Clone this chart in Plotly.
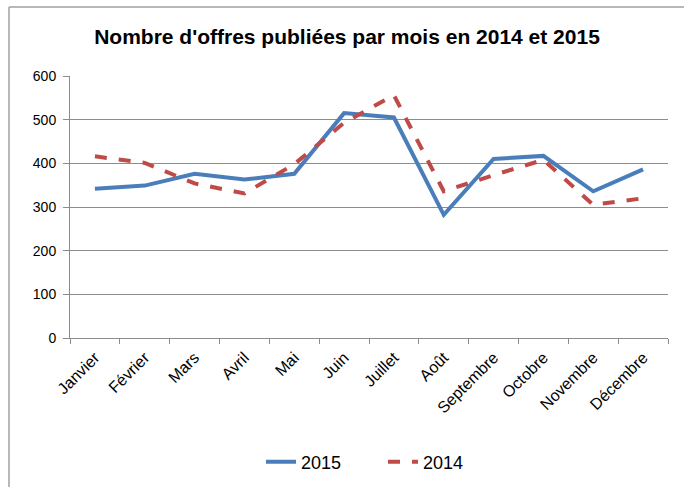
import plotly.graph_objects as go

months = ["Janvier", "Février", "Mars", "Avril", "Mai", "Juin", "Juillet",
          "Août", "Septembre", "Octobre", "Novembre", "Décembre"]
values_2015 = [342, 349, 376, 363, 376, 515, 505, 282, 410, 417, 336, 386]
values_2014 = [416, 401, 354, 331, 398, 493, 556, 336, 373, 408, 305, 320]
y_ticks = [0, 100, 200, 300, 400, 500, 600]

W, H = 684, 487
L, R, T, B = 70, 16, 76, 149
pw, ph = W - L - R, H - T - B

def px(x):
    return (x - L) / pw

def py(y):
    return (H - B - y) / ph

fig = go.Figure()
fig.add_trace(go.Scatter(x=months, y=values_2015, name="2015", mode="lines",
                         line=dict(color="#4A7EBB", width=4)))
fig.add_trace(go.Scatter(x=months, y=values_2014, name="2014", mode="lines",
                         line=dict(color="#BE4B48", width=4, dash="dash")))

grey = "#8c8c8c"
fig.update_layout(
    width=W, height=H,
    margin=dict(l=L, r=R, t=T, b=B, pad=0, autoexpand=False),
    paper_bgcolor="white", plot_bgcolor="white",
    font=dict(family="Liberation Sans, Arial", size=14, color="black"),
    title=dict(text="<b>Nombre d'offres publiées par mois en 2014 et 2015</b>",
               xref="paper", x=px(347), xanchor="center",
               yref="container", y=1 - 37 / H, yanchor="middle",
               font=dict(size=21, color="black")),
    showlegend=True,
    legend=dict(orientation="h", xref="container", x=261 / W, xanchor="left",
                yref="container", y=1 - 462 / H, yanchor="middle",
                entrywidth=77, entrywidthmode="pixels",
                font=dict(size=18), bgcolor="rgba(0,0,0,0)"),
    xaxis=dict(range=[-0.5, 11.5], showgrid=False, showline=True, linecolor=grey,
               linewidth=1, ticks="outside", ticklen=5, tickcolor=grey,
               tickson="boundaries", tickangle=-45, tickfont=dict(size=16),
               ticklabelstandoff=3, automargin=False),
    yaxis=dict(range=[0, 600], tickvals=y_ticks, showgrid=True, gridcolor=grey,
               gridwidth=1, showline=True, linecolor=grey, linewidth=1,
               ticks="outside", ticklen=6, tickcolor=grey, zeroline=False,
               tickfont=dict(size=14), ticklabelstandoff=4, automargin=False),
    shapes=[
        dict(type="line", xref="paper", yref="paper", x0=px(9), x1=px(9),
             y0=py(7), y1=py(500), line=dict(color="#a0a0a0", width=1.5)),
        dict(type="line", xref="paper", yref="paper", x0=px(9), x1=px(700),
             y0=py(7), y1=py(7), line=dict(color="#a0a0a0", width=1.5)),
    ],
)

fig.write_html("out.html", config={"displayModeBar": False},
               post_script="document.body.style.margin='0';document.body.style.overflow='hidden';")
